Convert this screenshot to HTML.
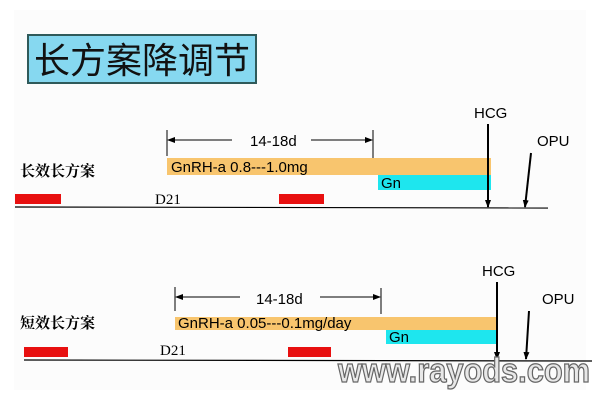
<!DOCTYPE html>
<html><head><meta charset="utf-8"><style>
html,body{margin:0;padding:0;background:#fff;}
svg{display:block;}
</style></head><body>
<svg width="600" height="400" viewBox="0 0 600 400" xmlns="http://www.w3.org/2000/svg" font-family="Liberation Sans, sans-serif">
<defs><marker id="a" markerUnits="userSpaceOnUse" markerWidth="8" markerHeight="6" refX="7" refY="3" orient="auto"><path d="M0,0 L8,3 L0,6z" fill="#000"/></marker></defs>
<rect x="14" y="10" width="572" height="380" fill="#fcfcfc"/>
<rect x="28" y="35" width="228" height="48" fill="#86d8f0" stroke="#2f5a5a" stroke-width="2"/>
<text x="142" y="73" font-size="36" text-anchor="middle" font-family="Liberation Sans, Noto Sans CJK SC, sans-serif" fill="#111">长方案降调节</text>

<text x="20" y="176" font-size="15" font-weight="bold" font-family="Noto Serif CJK SC, serif">长效长方案</text>
<line x1="167" y1="130" x2="167" y2="156" stroke="#000"/>
<line x1="232" y1="140" x2="168" y2="140" stroke="#000" marker-end="url(#a)"/>
<text x="250" y="146" font-size="15">14-18d</text>
<line x1="311" y1="140" x2="372" y2="140" stroke="#000" marker-end="url(#a)"/>
<line x1="373" y1="130" x2="373" y2="158" stroke="#000"/>
<rect x="167" y="158" width="324" height="17" fill="#f8c56e"/>
<text x="171" y="172" font-size="15">GnRH-a 0.8---1.0mg</text>
<rect x="378" y="175" width="113" height="15" fill="#1ee6ee"/>
<text x="381" y="188" font-size="15">Gn</text>
<rect x="15" y="194" width="46" height="10" fill="#e81010"/>
<rect x="279" y="194" width="45" height="10" fill="#e81010"/>
<line x1="15" y1="207" x2="548" y2="208" stroke="#000" stroke-width="1.2"/>
<text x="155" y="204" font-size="15" font-family="Liberation Serif, serif">D21</text>
<text x="474" y="118" font-size="15">HCG</text>
<line x1="488" y1="124" x2="488" y2="207" stroke="#000" stroke-width="2" marker-end="url(#a)"/>
<text x="537" y="146" font-size="15">OPU</text>
<line x1="531" y1="153" x2="525" y2="207" stroke="#000" stroke-width="2" marker-end="url(#a)"/>

<text x="20" y="328" font-size="15" font-weight="bold" font-family="Noto Serif CJK SC, serif">短效长方案</text>
<line x1="175" y1="287" x2="175" y2="311" stroke="#000"/>
<line x1="240" y1="297" x2="176" y2="297" stroke="#000" marker-end="url(#a)"/>
<text x="256" y="304" font-size="15">14-18d</text>
<line x1="320" y1="297" x2="380" y2="297" stroke="#000" marker-end="url(#a)"/>
<line x1="381" y1="288" x2="381" y2="314" stroke="#000"/>
<rect x="175" y="317" width="322" height="13" fill="#f8c56e"/>
<text x="178" y="328" font-size="15">GnRH-a 0.05---0.1mg/day</text>
<rect x="386" y="330" width="111" height="14" fill="#1ee6ee"/>
<text x="389" y="342" font-size="15">Gn</text>
<rect x="24" y="347" width="44" height="10" fill="#e81010"/>
<rect x="288" y="347" width="43" height="10" fill="#e81010"/>
<line x1="24" y1="360" x2="592" y2="361" stroke="#000" stroke-width="1.2"/>
<text x="160" y="355" font-size="15" font-family="Liberation Serif, serif">D21</text>
<text x="482" y="276" font-size="15">HCG</text>
<line x1="497" y1="282" x2="497" y2="359" stroke="#000" stroke-width="2" marker-end="url(#a)"/>
<text x="542" y="304" font-size="15">OPU</text>
<line x1="529" y1="311" x2="526" y2="359" stroke="#000" stroke-width="2" marker-end="url(#a)"/>

<text x="338" y="382" font-size="34" font-weight="bold" fill="#e8e8e8" stroke="#666" stroke-width="1.3" textLength="252" lengthAdjust="spacingAndGlyphs">www.rayods.com</text>
</svg>
</body></html>
